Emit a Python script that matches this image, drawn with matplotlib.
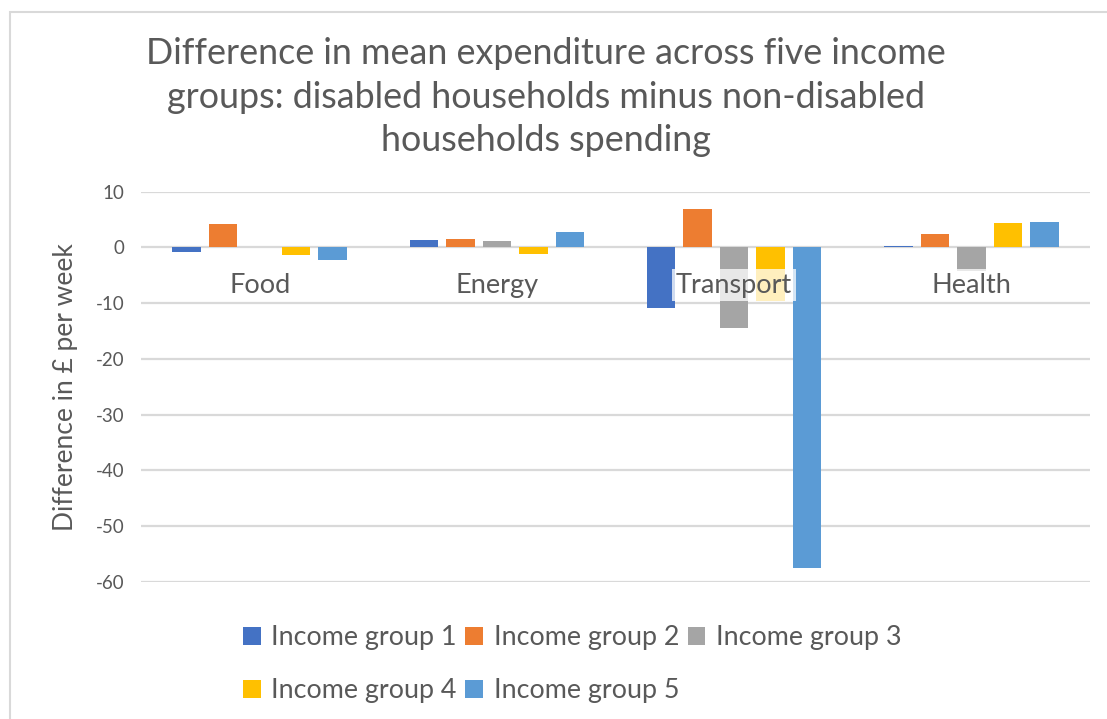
import numpy as np
import matplotlib
matplotlib.use('Agg')
import matplotlib.pyplot as plt
from matplotlib.patches import Rectangle

# data (£ per week)
categories = ['Food', 'Energy', 'Transport', 'Health']
series_names = ['Income group 1', 'Income group 2', 'Income group 3',
                'Income group 4', 'Income group 5']
group1 = [-0.8, 1.4, -10.9, 0.3]
group2 = [4.2, 1.6, 6.9, 2.5]
group3 = [0.0, 1.2, -14.4, -4.2]
group4 = [-1.4, -1.1, -9.6, 4.3]
group5 = [-2.3, 2.7, -57.4, 4.5]
colors = ['#4472C4', '#ED7D31', '#A5A5A5', '#FFC000', '#5B9BD5']
yticks = list(range(-60, 11, 10))

txt = '#595959'
grid_c = '#d9d9d9'
plt.rcParams['font.family'] = ['Lato', 'DejaVu Sans']
plt.rcParams['axes.unicode_minus'] = False

fig = plt.figure(figsize=(11.07, 7.19), dpi=100)
ax = fig.add_axes([141/1107, 1-582/719, (1090-141)/1107, (582-191.7)/719])

x = np.arange(len(categories))
pitch, width = 0.154, 0.12
all_series = [group1, group2, group3, group4, group5]
handles = []
for k, (vals, c, name) in enumerate(zip(all_series, colors, series_names)):
    b = ax.bar(x + (k - 2) * pitch, vals, width, color=c, label=name, zorder=2)
    handles.append(b)

ax.set_xlim(-0.5, len(categories) - 0.5)
ax.set_ylim(-60, 10)
ax.set_yticks(yticks)
ax.set_xticks([])
ax.yaxis.grid(True, color=grid_c, lw=1.6, zorder=0)
ax.set_axisbelow(True)
for s in ax.spines.values():
    s.set_visible(False)
ax.tick_params(axis='y', length=0, labelsize=13.5, colors=txt, pad=12)

# category labels sit just under the zero line, with a pale box over the bars
for i, cat in enumerate(categories):
    ax.text(i, -6.8, cat, ha='center', va='center', fontsize=19.5, color=txt, zorder=3,
            bbox=dict(facecolor='white', alpha=0.75, edgecolor='none', pad=2.5))

ax.set_ylabel('Difference in £ per week', fontsize=19, color=txt, labelpad=13)

fig.text(0.493, 1-97/719, 'Difference in mean expenditure across five income\n'
         'groups: disabled households minus non-disabled\nhouseholds spending',
         ha='center', va='center', fontsize=25.8, color=txt, linespacing=1.38)

# legend: row-major order with 3 columns
order = [0, 3, 1, 4, 2]
fig.legend([handles[i] for i in order], [series_names[i] for i in order],
           ncol=3, loc='upper left', bbox_to_anchor=(243/1107, 1-625/719),
           frameon=False, fontsize=19.4, labelcolor=txt,
           handlelength=0.65, handleheight=0.65, handletextpad=0.4,
           columnspacing=0.32, labelspacing=1.05, borderpad=0, borderaxespad=0)

# chart border (only left/top visible in the crop)
fig.patches.append(Rectangle((10/1107, -0.1), 1.2, 1 - 12/719 + 0.1,
                             transform=fig.transFigure, fill=False,
                             edgecolor=grid_c, lw=1.5))

fig.savefig('out.png', dpi=100)
